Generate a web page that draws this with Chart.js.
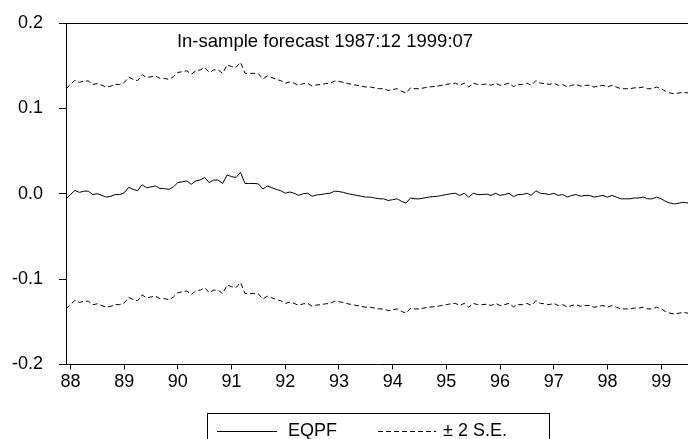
<!DOCTYPE html>
<html>
<head>
  <title>EQPF in-sample forecast</title>
  <script src="https://cdn.jsdelivr.net/npm/chart.js"></script>

  <style>
    body { margin: 0; background: #fff; }
    #wrap { width: 688px; height: 439px; }
  </style>
</head>
<body>
  <div id="wrap">
    <canvas id="fcChart"></canvas>
  </div>

  <script>
    const titleText = 'In-sample forecast 1987:12 1999:07';

    // x axis: month index 0 = 1987:12 ... 139 = 1999:07, ticks on each January
    const yearLabels = ['88', '89', '90', '91', '92', '93', '94', '95', '96', '97', '98', '99'];
    const yearTickIndex = [1, 13, 25, 37, 49, 61, 73, 85, 97, 109, 121, 133];
    const yTicks = [-0.2, -0.1, 0.0, 0.1, 0.2];

    // forecast (one row per year)
    const eqpf = [
      -0.006,
      -0.001, 0.004, 0.0015, 0.003, 0.003, -0.001, 0.000, -0.002, -0.004, -0.003, -0.001, -0.001,
      0.001, 0.0075, 0.005, 0.0035, 0.0105, 0.007, 0.008, 0.009, 0.006, 0.006, 0.005, 0.008,
      0.013, 0.014, 0.015, 0.011, 0.015, 0.016, 0.019, 0.013, 0.016, 0.016, 0.012, 0.022,
      0.020, 0.019, 0.025, 0.012, 0.012, 0.012, 0.0115, 0.0055, 0.009, 0.007, 0.005, 0.0035,
      0.0005, 0.002, 0.0005, -0.002, 0.000, 0.0005, -0.003, -0.0015, -0.001, 0.000, 0.0005, 0.003,
      0.0025, 0.0015, 0.000, -0.001, -0.002, -0.003, -0.004, -0.004, -0.005, -0.006, -0.006, -0.008,
      -0.007, -0.006, -0.009, -0.011, -0.005, -0.006, -0.006, -0.005, -0.004, -0.0035, -0.003, -0.002,
      -0.001, 0.000, 0.0005, -0.002, 0.0005, -0.004, 0.0005, -0.001, -0.001, -0.0005, -0.002, 0.0005,
      -0.002, -0.001, 0.0005, -0.0035, -0.001, -0.001, 0.0005, -0.002, 0.0035, 0.0005, 0.000, -0.001,
      0.0005, -0.002, -0.001, -0.004, -0.002, -0.001, -0.003, -0.002, -0.002, -0.004, -0.003, -0.002,
      -0.004, -0.002, -0.004, -0.006, -0.006, -0.006, -0.005, -0.005, -0.004, -0.006, -0.006, -0.004,
      -0.006, -0.009, -0.011, -0.012, -0.011, -0.010, -0.011
    ];

    // +2 S.E. band
    const upperBand = [
      0.123,
      0.128, 0.133, 0.1305, 0.132, 0.132, 0.128, 0.129, 0.127, 0.125, 0.126, 0.128, 0.128,
      0.130, 0.1365, 0.134, 0.1325, 0.1395, 0.136, 0.137, 0.138, 0.135, 0.135, 0.134, 0.137,
      0.142, 0.143, 0.144, 0.140, 0.144, 0.145, 0.148, 0.142, 0.145, 0.145, 0.141, 0.151,
      0.149, 0.148, 0.154, 0.141, 0.141, 0.141, 0.1405, 0.1345, 0.138, 0.136, 0.134, 0.1325,
      0.1295, 0.131, 0.1295, 0.127, 0.129, 0.1295, 0.126, 0.1275, 0.128, 0.129, 0.1295, 0.132,
      0.1315, 0.1305, 0.129, 0.128, 0.127, 0.126, 0.125, 0.125, 0.124, 0.123, 0.123, 0.121,
      0.122, 0.123, 0.120, 0.118, 0.124, 0.123, 0.123, 0.124, 0.125, 0.1255, 0.126, 0.127,
      0.128, 0.129, 0.1295, 0.127, 0.1295, 0.125, 0.1295, 0.128, 0.128, 0.1285, 0.127, 0.1295,
      0.127, 0.128, 0.1295, 0.1255, 0.128, 0.128, 0.1295, 0.127, 0.1325, 0.1295, 0.129, 0.128,
      0.1295, 0.127, 0.128, 0.125, 0.127, 0.128, 0.126, 0.127, 0.127, 0.125, 0.126, 0.127,
      0.125, 0.127, 0.125, 0.123, 0.123, 0.123, 0.124, 0.124, 0.125, 0.123, 0.123, 0.125,
      0.123, 0.120, 0.118, 0.117, 0.118, 0.119, 0.118
    ];

    // -2 S.E. band
    const lowerBand = [
      -0.135,
      -0.130, -0.125, -0.1275, -0.126, -0.126, -0.130, -0.129, -0.131, -0.133, -0.132, -0.130, -0.130,
      -0.128, -0.1215, -0.124, -0.1255, -0.1185, -0.122, -0.121, -0.120, -0.123, -0.123, -0.124, -0.121,
      -0.116, -0.115, -0.114, -0.118, -0.114, -0.113, -0.110, -0.116, -0.113, -0.113, -0.117, -0.107,
      -0.109, -0.110, -0.104, -0.117, -0.117, -0.117, -0.1175, -0.1235, -0.120, -0.122, -0.124, -0.1255,
      -0.1285, -0.127, -0.1285, -0.131, -0.129, -0.1285, -0.132, -0.1305, -0.130, -0.129, -0.1285, -0.126,
      -0.1265, -0.1275, -0.129, -0.130, -0.131, -0.132, -0.133, -0.133, -0.134, -0.135, -0.135, -0.137,
      -0.136, -0.135, -0.138, -0.140, -0.134, -0.135, -0.135, -0.134, -0.133, -0.1325, -0.132, -0.131,
      -0.130, -0.129, -0.1285, -0.131, -0.1285, -0.133, -0.1285, -0.130, -0.130, -0.1295, -0.131, -0.1285,
      -0.131, -0.130, -0.1285, -0.1325, -0.130, -0.130, -0.1285, -0.131, -0.1255, -0.1285, -0.129, -0.130,
      -0.1285, -0.131, -0.130, -0.133, -0.131, -0.130, -0.132, -0.131, -0.131, -0.133, -0.132, -0.131,
      -0.133, -0.131, -0.133, -0.135, -0.135, -0.135, -0.134, -0.134, -0.133, -0.135, -0.135, -0.133,
      -0.135, -0.138, -0.140, -0.141, -0.140, -0.139, -0.140
    ];

    const FONT = 'Arial, "Liberation Sans", sans-serif';
    const DASH = [5, 3];

    const toPoints = arr => arr.map((y, x) => ({ x: x, y: y }));

    // top frame line, title inside the plot, and the boxed legend at the bottom
    const evFrame = {
      id: 'evFrame',
      afterDraw(chart, args, opts) {
        const ctx = chart.ctx;
        const a = chart.chartArea;
        ctx.save();
        ctx.strokeStyle = '#000';
        ctx.lineWidth = 1;
        ctx.beginPath();
        ctx.moveTo(a.left, a.top + 0.5);
        ctx.lineTo(a.right, a.top + 0.5);
        ctx.stroke();

        ctx.fillStyle = '#000';
        ctx.font = '18.5px ' + FONT;
        ctx.textAlign = 'center';
        ctx.textBaseline = 'middle';
        ctx.fillText(titleText, opts.titleX, opts.titleY);

        // legend box (bottom edge runs off the page)
        const lg = opts.legend;
        ctx.font = '18px ' + FONT;
        ctx.strokeRect(lg.left + 0.5, lg.top + 0.5, lg.right - lg.left, 40);
        ctx.textAlign = 'left';
        lg.items.forEach(it => {
          const ds = chart.data.datasets[it.dataset];
          ctx.setLineDash(ds.borderDash || []);
          ctx.beginPath();
          ctx.moveTo(it.x0, lg.lineY + 0.5);
          ctx.lineTo(it.x1, lg.lineY + 0.5);
          ctx.stroke();
          ctx.setLineDash([]);
          ctx.fillText(ds.label, it.textX, lg.textY);
        });
        ctx.restore();
      }
    };

    const ctx = document.getElementById('fcChart').getContext('2d');
    new Chart(ctx, {
      type: 'line',
      data: {
        datasets: [
          {
            label: 'EQPF',
            data: toPoints(eqpf),
            borderColor: '#000',
            borderWidth: 1,
            pointRadius: 0
          },
          {
            label: '± 2 S.E.',
            data: toPoints(upperBand),
            borderColor: '#000',
            borderWidth: 1,
            borderDash: DASH,
            pointRadius: 0
          },
          {
            label: '± 2 S.E.',
            data: toPoints(lowerBand),
            borderColor: '#000',
            borderWidth: 1,
            borderDash: DASH,
            pointRadius: 0
          }
        ]
      },
      options: {
        responsive: true,
        maintainAspectRatio: false,
        animation: false,
        layout: { padding: { left: 12, right: 0, top: 23, bottom: 44 } },
        scales: {
          x: {
            type: 'linear',
            min: 0,
            max: eqpf.length - 1,
            afterBuildTicks: s => { s.ticks = yearTickIndex.map(v => ({ value: v })); },
            afterFit: s => { s.paddingLeft = 0; s.paddingRight = 0; },
            ticks: {
              autoSkip: false,
              maxRotation: 0,
              padding: 2,
              color: '#000',
              font: { family: FONT, size: 18 },
              callback: v => yearLabels[yearTickIndex.indexOf(v)]
            },
            grid: { drawOnChartArea: false, tickLength: 5, color: '#000' },
            border: { color: '#000', width: 1 }
          },
          y: {
            min: -0.2,
            max: 0.2,
            afterBuildTicks: s => { s.ticks = yTicks.map(v => ({ value: v })); },
            afterFit: s => { s.width = 54; s.paddingTop = 0; s.paddingBottom = 0; },
            ticks: {
              padding: 16,
              color: '#000',
              font: { family: FONT, size: 18 },
              callback: v => v.toFixed(1)
            },
            grid: { drawOnChartArea: false, tickLength: 7, color: '#000' },
            border: { color: '#000', width: 1 }
          }
        },
        plugins: {
          legend: { display: false },
          tooltip: { enabled: false },
          evFrame: {
            titleX: 325,
            titleY: 42,
            legend: {
              left: 207, right: 549, top: 413, lineY: 431, textY: 431,
              items: [
                { dataset: 0, x0: 217, x1: 277, textX: 288 },
                { dataset: 1, x0: 378, x1: 436, textX: 443 }
              ]
            }
          }
        }
      },
      plugins: [evFrame]
    });
  </script>
</body>
</html>
